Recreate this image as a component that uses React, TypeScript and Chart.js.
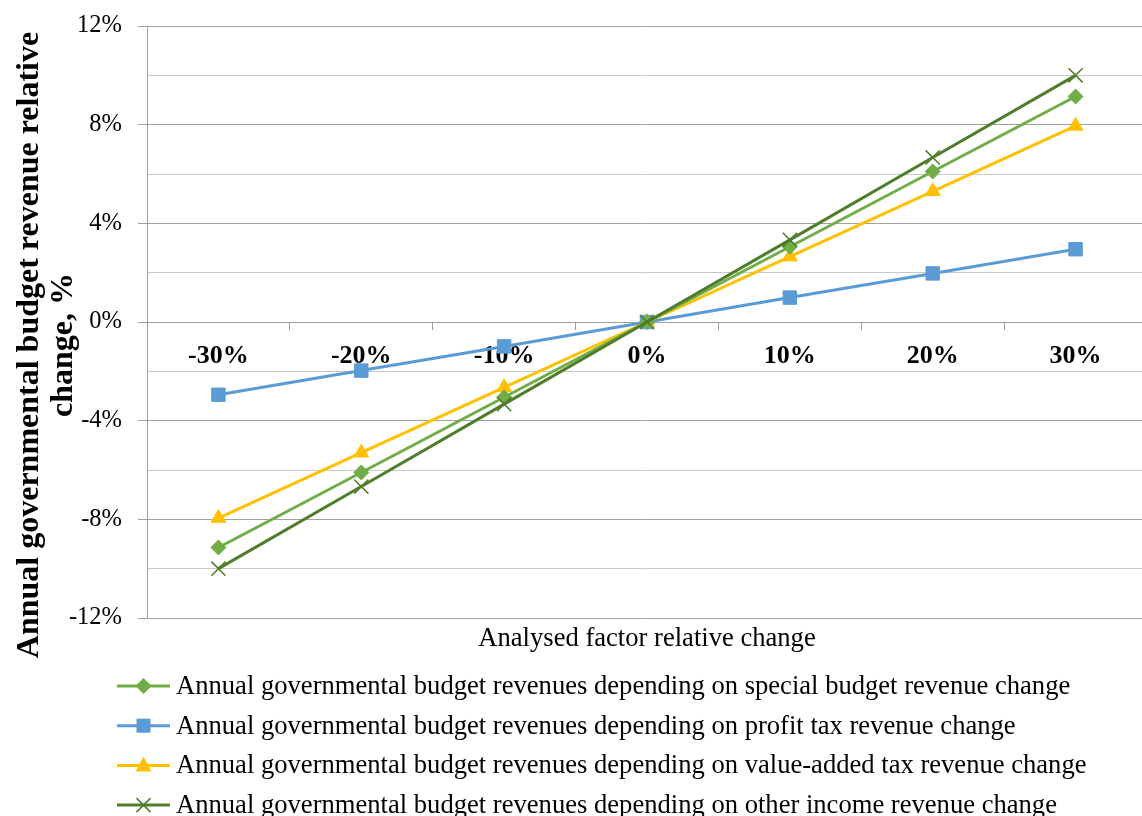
import React, { useEffect, useRef } from 'react';
import { Chart, registerables } from 'chart.js';

Chart.register(...registerables);

// ---- data ----
const categories = ['-30%', '-20%', '-10%', '0%', '10%', '20%', '30%'];
const specialBudget = [-9.14, -6.1, -3.05, 0, 3.05, 6.1, 9.14];
const profitTax = [-2.95, -1.97, -0.99, 0, 0.99, 1.97, 2.95];
const valueAddedTax = [-7.95, -5.3, -2.65, 0, 2.65, 5.3, 7.95];
const otherIncome = [-10.0, -6.67, -3.33, 0, 3.33, 6.67, 10.0];

const seriesNames = [
  'Annual governmental budget revenues depending on special budget revenue change',
  'Annual governmental budget revenues depending on profit tax revenue change',
  'Annual governmental budget revenues depending on value-added tax revenue change',
  'Annual governmental budget revenues depending on other income revenue change',
];
const seriesColors = ['#70AD47', '#5B9BD5', '#FFC000', '#4E7D2C'];
const seriesMarkers = ['rectRot', 'rect', 'triangle', 'crossRot'];

const yMin = -12;
const yMax = 12;
const yStep = 2;
const yLabelStep = 4;

const yTitleLines = ['Annual governmental budget revenue relative', 'change, %'];
const xTitle = 'Analysed factor relative change';

const SERIF = '"Liberation Serif", "Times New Roman", serif';

function drawMarker(ctx: CanvasRenderingContext2D, style: string, cx: number, cy: number, color: string) {
  ctx.save();
  ctx.fillStyle = color;
  ctx.strokeStyle = color;
  ctx.lineWidth = 1;
  ctx.beginPath();
  if (style === 'rectRot') {
    ctx.moveTo(cx, cy - 8);
    ctx.lineTo(cx + 8, cy);
    ctx.lineTo(cx, cy + 8);
    ctx.lineTo(cx - 8, cy);
    ctx.closePath();
    ctx.fill();
  } else if (style === 'rect') {
    ctx.rect(cx - 7, cy - 7, 14, 14);
    ctx.fill();
  } else if (style === 'triangle') {
    ctx.moveTo(cx, cy - 9);
    ctx.lineTo(cx + 8, cy + 6);
    ctx.lineTo(cx - 8, cy + 6);
    ctx.closePath();
    ctx.fill();
  } else {
    ctx.lineWidth = 1.5;
    ctx.moveTo(cx - 7, cy - 7);
    ctx.lineTo(cx + 7, cy + 7);
    ctx.moveTo(cx + 7, cy - 7);
    ctx.lineTo(cx - 7, cy + 7);
    ctx.stroke();
  }
  ctx.restore();
}

const overlayPlugin = {
  id: 'overlay',
  afterDraw(chart: any) {
    const ctx: CanvasRenderingContext2D = chart.ctx;
    const area = chart.chartArea;
    ctx.save();
    ctx.fillStyle = '#000';

    // y axis title (rotated, two lines)
    ctx.save();
    ctx.font = `bold 32px ${SERIF}`;
    ctx.textAlign = 'center';
    ctx.textBaseline = 'alphabetic';
    ctx.translate(0, 345);
    ctx.rotate(-Math.PI / 2);
    ctx.fillText(yTitleLines[0], 0, 38);
    ctx.fillText(yTitleLines[1], 0, 72);
    ctx.restore();

    // x axis title
    ctx.font = `26.6px ${SERIF}`;
    ctx.textAlign = 'center';
    ctx.textBaseline = 'alphabetic';
    ctx.fillText(xTitle, (area.left + area.right) / 2, 646);

    // legend
    const rowY0 = 686;
    const rowGap = 39.7;
    chart.data.datasets.forEach((ds: any, i: number) => {
      const cy = rowY0 + i * rowGap;
      ctx.save();
      ctx.strokeStyle = seriesColors[i];
      ctx.lineWidth = 3;
      ctx.beginPath();
      ctx.moveTo(117, cy);
      ctx.lineTo(170, cy);
      ctx.stroke();
      ctx.restore();
      drawMarker(ctx, seriesMarkers[i], 143.5, cy, seriesColors[i]);
      ctx.fillStyle = '#000';
      ctx.font = `26.6px ${SERIF}`;
      ctx.textAlign = 'left';
      ctx.textBaseline = 'alphabetic';
      ctx.fillText(ds.label, 176, cy + 8);
    });
    ctx.restore();
  },
};

export default function App() {
  const canvasRef = useRef<HTMLCanvasElement | null>(null);

  useEffect(() => {
    document.body.style.margin = '0';
    const canvas = canvasRef.current;
    if (!canvas) return;

    const seriesData = [specialBudget, profitTax, valueAddedTax, otherIncome];
    const drawOrder = [2, 4, 3, 1];

    const chart = new Chart(canvas, {
      type: 'line',
      data: {
        labels: categories,
        datasets: seriesData.map((d, i) => ({
          label: seriesNames[i],
          data: d,
          borderColor: seriesColors[i],
          backgroundColor: seriesColors[i],
          borderWidth: 3,
          tension: 0,
          fill: false,
          clip: false as any,
          order: drawOrder[i],
          pointStyle: seriesMarkers[i] as any,
          pointRadius: seriesMarkers[i] === 'rect' ? 9.5 : seriesMarkers[i] === 'triangle' ? 8.5 : seriesMarkers[i] === 'crossRot' ? 10 : 7.5,
          pointBorderWidth: seriesMarkers[i] === 'crossRot' ? 1.5 : 1,
          pointBackgroundColor: seriesColors[i],
          pointBorderColor: seriesColors[i],
        })),
      },
      options: {
        responsive: false,
        animation: false,
        devicePixelRatio: 1,
        layout: { autoPadding: false, padding: { top: 26, bottom: 198, left: 0, right: 0 } },
        plugins: {
          legend: { display: false },
          tooltip: { enabled: false },
          title: { display: false },
        },
        scales: {
          x: {
            type: 'category',
            position: { y: 0 } as any,
            offset: true,
            afterFit: (scale: any) => {
              scale.paddingLeft = 0;
              scale.paddingRight = 0;
            },
            grid: {
              offset: true,
              drawOnChartArea: false,
              drawTicks: true,
              tickLength: 7,
              color: '#9E9E9E',
              tickColor: '#9E9E9E',
            },
            border: { display: true, color: '#9E9E9E', width: 1 },
            ticks: {
              color: '#000',
              padding: 12,
              font: { family: SERIF, size: 26, weight: 'bold' },
              maxRotation: 0,
              autoSkip: false,
            },
          },
          y: {
            type: 'linear',
            position: 'left',
            min: yMin,
            max: yMax,
            afterFit: (scale: any) => {
              scale.width = 147;
              scale.paddingTop = 0;
              scale.paddingBottom = 0;
            },
            grid: {
              color: (c: any) => (c.tick && Math.abs(c.tick.value) % yLabelStep === 0 ? '#A0A0A0' : '#C8C8C8'),
              tickColor: (c: any) => (c.tick && Math.abs(c.tick.value) % yLabelStep === 0 ? '#A0A0A0' : 'rgba(0,0,0,0)'),
              tickLength: 9,
              lineWidth: 1,
            },
            border: { display: true, color: '#A0A0A0', width: 1 },
            ticks: {
              stepSize: yStep,
              padding: 16,
              color: '#000',
              font: { family: SERIF, size: 24.5 },
              callback: (v: any) => (Number(v) % yLabelStep === 0 ? `${v}%` : ''),
            },
          },
        },
      },
      plugins: [overlayPlugin],
    });

    return () => {
      chart.destroy();
    };
  }, []);

  return (
    <div style={{ width: 1142, height: 816, overflow: 'hidden', position: 'relative', background: '#fff' }}>
      <canvas ref={canvasRef} width={1147} height={816} style={{ width: 1147, height: 816, display: 'block' }} />
    </div>
  );
}
